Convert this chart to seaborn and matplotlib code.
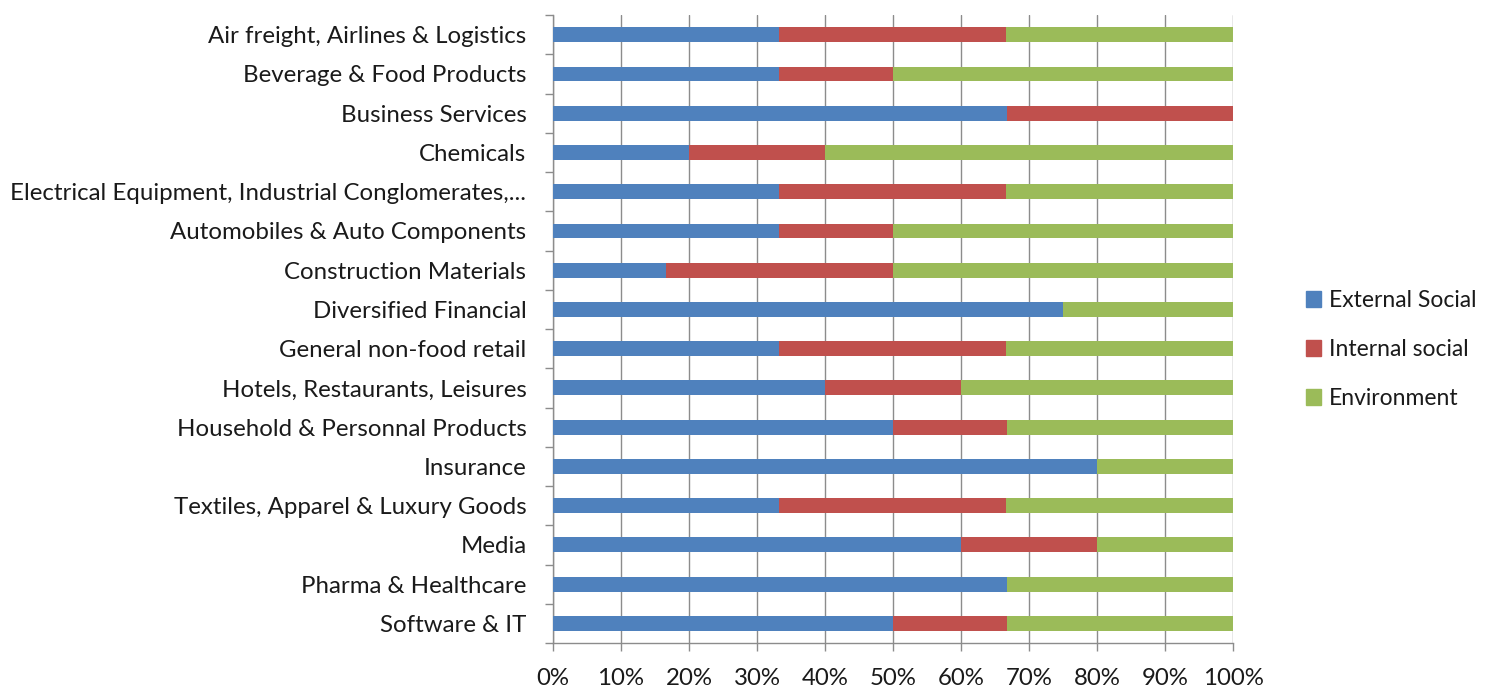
import pandas as pd
import matplotlib.pyplot as plt
import matplotlib.patches as mpatches
from matplotlib.ticker import FixedLocator, PercentFormatter
import seaborn as sns

sectors = [
    "Air freight, Airlines & Logistics",
    "Beverage & Food Products",
    "Business Services",
    "Chemicals",
    "Electrical Equipment, Industrial Conglomerates,...",
    "Automobiles & Auto Components",
    "Construction Materials",
    "Diversified Financial",
    "General non-food retail",
    "Hotels, Restaurants, Leisures",
    "Household & Personnal Products",
    "Insurance",
    "Textiles, Apparel & Luxury Goods",
    "Media",
    "Pharma & Healthcare",
    "Software & IT",
]
external_social = [33.3, 33.3, 66.7, 20, 33.3, 33.3, 16.7, 75, 33.3, 40, 50, 80, 33.3, 60, 66.7, 50]
internal_social = [33.3, 16.7, 33.3, 20, 33.3, 16.7, 33.3, 0, 33.3, 20, 16.7, 0, 33.3, 20, 0, 16.7]
environment = [33.4, 50, 0, 60, 33.4, 50, 50, 25, 33.4, 40, 33.3, 20, 33.4, 20, 33.3, 33.3]

series_names = ["External Social", "Internal social", "Environment"]
colors = ["#4F81BD", "#C0504D", "#9BBB59"]

df = pd.DataFrame({
    "sector": sectors,
    "External Social": external_social,
    "Internal social": internal_social,
    "Environment": environment,
})
# normalise to 100% per row and build cumulative ends for stacking
tot = df[series_names].sum(axis=1)
for s in series_names:
    df[s] = df[s] / tot * 100
df["cum1"] = df["External Social"]
df["cum2"] = df["cum1"] + df["Internal social"]
df["cum3"] = df["cum2"] + df["Environment"]

sns.set_theme(style="white")
plt.rcParams["font.family"] = ["Lato", "DejaVu Sans"]

fig = plt.figure(figsize=(14.86, 6.88), dpi=100)
ax = fig.add_axes([0.372, 0.0654, 0.458, 0.9126])

# draw from the longest stack to the shortest so each layer shows
for col, c in zip(["cum3", "cum2", "cum1"], colors[::-1]):
    sns.barplot(data=df, y="sector", x=col, color=c, orient="h",
                width=0.38, saturation=1, linewidth=0, ax=ax, zorder=3)

ax.set_xlim(0, 100)
ax.set_ylim(len(sectors) - 0.5, -0.5)
ax.set_xlabel("")
ax.set_ylabel("")
ax.xaxis.set_major_locator(FixedLocator(range(0, 101, 10)))
ax.xaxis.set_major_formatter(PercentFormatter(decimals=0))
ax.grid(axis="x", color="#8C8C8C", linewidth=1.0, zorder=0)
ax.set_axisbelow(True)

for side in ["top", "right"]:
    ax.spines[side].set_visible(False)
for side in ["left", "bottom"]:
    ax.spines[side].set_color("#8C8C8C")
    ax.spines[side].set_linewidth(1.0)

ax.yaxis.set_minor_locator(FixedLocator([i - 0.5 for i in range(len(sectors) + 1)]))
ax.tick_params(axis="y", which="major", length=0, pad=19, labelsize=17.3, labelcolor="#1a1a1a")
ax.tick_params(axis="y", which="minor", length=6, color="#8C8C8C", width=1, left=True)
ax.tick_params(axis="x", which="major", length=6, color="#8C8C8C", width=1, bottom=True,
               labelsize=17.3, labelcolor="#1a1a1a", pad=12)

handles = [mpatches.Patch(color=c, label=n) for c, n in zip(colors, series_names)]
fig.legend(handles=handles, loc="center left", bbox_to_anchor=(0.879, 0.492),
           frameon=False, fontsize=16.5, handlelength=0.65, handleheight=0.65,
           handletextpad=0.35, labelspacing=1.22, borderpad=0, borderaxespad=0,
           labelcolor="#1a1a1a")

fig.savefig("out.png", dpi=100)
